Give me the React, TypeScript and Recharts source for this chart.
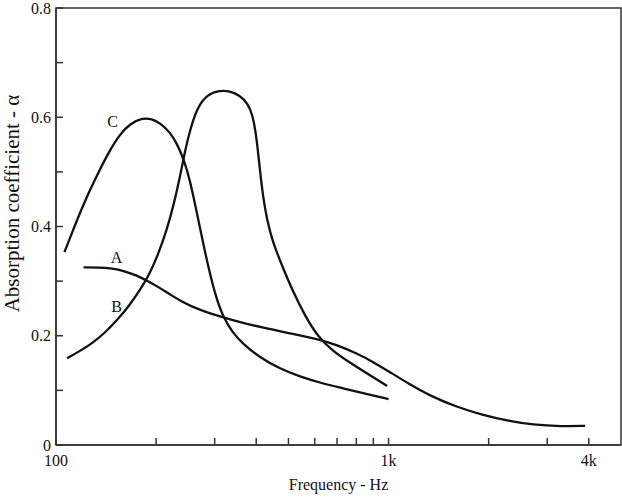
import React from 'react';
import { LineChart, Line, XAxis, YAxis, ReferenceArea, ReferenceDot, Label } from 'recharts';

// Curve A: broad, slowly falling absorption
const curveA = [
  { f: 121, a: 0.325 }, { f: 135, a: 0.325 }, { f: 145, a: 0.324 }, { f: 160, a: 0.319 },
  { f: 174, a: 0.311 }, { f: 189, a: 0.3 }, { f: 205, a: 0.288 }, { f: 222, a: 0.274 },
  { f: 240, a: 0.262 }, { f: 270, a: 0.247 }, { f: 317, a: 0.234 }, { f: 357, a: 0.225 },
  { f: 410, a: 0.216 }, { f: 500, a: 0.205 }, { f: 615, a: 0.194 }, { f: 700, a: 0.183 },
  { f: 800, a: 0.168 }, { f: 900, a: 0.152 }, { f: 1006, a: 0.134 }, { f: 1150, a: 0.112 },
  { f: 1354, a: 0.088 }, { f: 1600, a: 0.07 }, { f: 1913, a: 0.055 }, { f: 2300, a: 0.044 },
  { f: 2707, a: 0.037 }, { f: 3330, a: 0.034 }, { f: 3900, a: 0.035 },
];

// Curve B: sharp resonance near 300 Hz
const curveB = [
  { f: 108, a: 0.159 }, { f: 118, a: 0.172 }, { f: 129, a: 0.187 }, { f: 140, a: 0.205 },
  { f: 153, a: 0.229 }, { f: 167, a: 0.257 }, { f: 179, a: 0.284 }, { f: 190, a: 0.31 },
  { f: 202, a: 0.346 }, { f: 215, a: 0.392 }, { f: 226, a: 0.44 }, { f: 236, a: 0.491 },
  { f: 244, a: 0.537 }, { f: 253, a: 0.577 }, { f: 266, a: 0.618 }, { f: 285, a: 0.642 },
  { f: 311, a: 0.649 }, { f: 333, a: 0.648 }, { f: 357, a: 0.64 }, { f: 377, a: 0.626 },
  { f: 390, a: 0.604 }, { f: 398, a: 0.575 }, { f: 404, a: 0.543 }, { f: 411, a: 0.5 },
  { f: 419, a: 0.456 }, { f: 431, a: 0.412 }, { f: 448, a: 0.372 }, { f: 480, a: 0.326 },
  { f: 515, a: 0.282 }, { f: 560, a: 0.237 }, { f: 615, a: 0.197 }, { f: 680, a: 0.172 },
  { f: 760, a: 0.152 }, { f: 857, a: 0.132 }, { f: 990, a: 0.108 },
];

// Curve C: resonance near 180 Hz
const curveC = [
  { f: 106, a: 0.353 }, { f: 112, a: 0.39 }, { f: 118, a: 0.425 }, { f: 126.5, a: 0.467 },
  { f: 135.6, a: 0.505 }, { f: 145.3, a: 0.54 }, { f: 155.7, a: 0.569 }, { f: 166.8, a: 0.588 },
  { f: 182.5, a: 0.599 }, { f: 194, a: 0.597 }, { f: 205, a: 0.59 }, { f: 220, a: 0.573 },
  { f: 231, a: 0.552 }, { f: 243, a: 0.521 }, { f: 252.6, a: 0.485 }, { f: 261.5, a: 0.443 },
  { f: 270.7, a: 0.399 }, { f: 280, a: 0.356 }, { f: 290, a: 0.315 }, { f: 302, a: 0.273 },
  { f: 317, a: 0.236 }, { f: 340, a: 0.205 }, { f: 364, a: 0.186 }, { f: 410, a: 0.16 },
  { f: 470, a: 0.14 }, { f: 541, a: 0.125 }, { f: 630, a: 0.113 }, { f: 728, a: 0.104 },
  { f: 850, a: 0.094 }, { f: 1000, a: 0.084 },
];

const curveLabels = [
  { name: 'C', f: 148, a: 0.592 },
  { name: 'A', f: 152, a: 0.344 },
  { name: 'B', f: 152, a: 0.253 },
];

const xTicks = [100, 200, 300, 400, 500, 600, 700, 800, 900, 1000, 2000, 3000, 4000];
const xTickLabels: Record<number, string> = { 100: '100', 1000: '1k', 4000: '4k' };
const yTicks = [0, 0.1, 0.2, 0.3, 0.4, 0.5, 0.6, 0.7, 0.8];
const yTickLabels: Record<string, string> = { '0': '0', '0.2': '0.2', '0.4': '0.4', '0.6': '0.6', '0.8': '0.8' };

const FONT = '"Liberation Serif", "DejaVu Serif", serif';
const INK = '#111';
const AXIS = '#333';

export default function App() {
  return (
    <div style={{ position: 'absolute', left: 0, top: 0 }}>
      <LineChart width={622} height={497} margin={{ top: 8, right: 1, bottom: 0, left: 0 }}>
        <XAxis
          dataKey="f"
          type="number"
          scale="log"
          domain={[100, 5000]}
          allowDataOverflow
          ticks={xTicks}
          interval={0}
          height={52}
          tickSize={-7}
          tickMargin={17}
          tickFormatter={(v: number) => xTickLabels[v] ?? ''}
          axisLine={{ stroke: AXIS, strokeWidth: 1.5 }}
          tickLine={{ stroke: AXIS, strokeWidth: 1.5 }}
          tick={{ fill: INK, fontSize: 16, fontFamily: FONT }}
        >
          <Label value="Frequency - Hz" position="center" dy={13} style={{ fill: INK, fontSize: 16, fontFamily: FONT }} />
        </XAxis>
        <YAxis
          type="number"
          domain={[0, 0.8]}
          ticks={yTicks}
          interval={0}
          width={56}
          tickSize={-7}
          tickMargin={12}
          tickFormatter={(v: number) => yTickLabels[String(v)] ?? ''}
          axisLine={{ stroke: AXIS, strokeWidth: 1.5 }}
          tickLine={{ stroke: AXIS, strokeWidth: 1.5 }}
          tick={{ fill: INK, fontSize: 16, fontFamily: FONT }}
        >
          <Label
            value="Absorption coefficient - α"
            angle={-90}
            position="center"
            dx={-16}
            dy={-23}
            style={{ fill: INK, fontSize: 21, fontFamily: FONT }}
          />
        </YAxis>
        <ReferenceArea x1={100} x2={5000} y1={0} y2={0.8} fill="none" stroke={AXIS} strokeWidth={1.5} />
        <Line data={curveA} dataKey="a" type="basis" stroke={INK} strokeWidth={2.3} dot={false} isAnimationActive={false} />
        <Line data={curveB} dataKey="a" type="basis" stroke={INK} strokeWidth={2.3} dot={false} isAnimationActive={false} />
        <Line data={curveC} dataKey="a" type="basis" stroke={INK} strokeWidth={2.3} dot={false} isAnimationActive={false} />
        {curveLabels.map((l) => (
          <ReferenceDot key={l.name} x={l.f} y={l.a} r={0} fill="none" stroke="none">
            <Label value={l.name} position="center" style={{ fill: INK, fontSize: 16, fontFamily: FONT }} />
          </ReferenceDot>
        ))}
      </LineChart>
    </div>
  );
}
